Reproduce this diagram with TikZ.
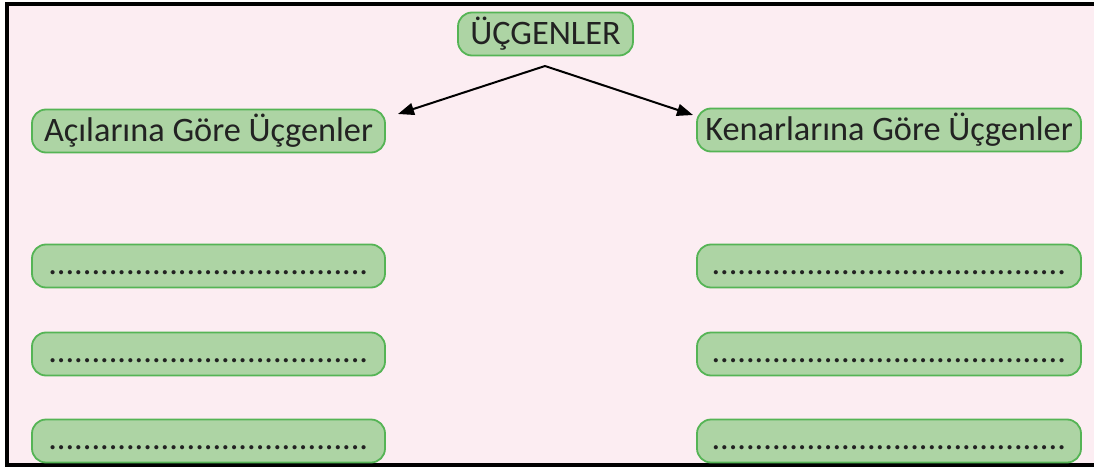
\documentclass[tikz,border=0pt]{standalone}
\usepackage{fontspec}
\setmainfont{Carlito}
\usetikzlibrary{arrows.meta}

\definecolor{pagepink}{HTML}{FCEDF2}
\definecolor{boxfill}{HTML}{ADD4A4}
\definecolor{boxedge}{HTML}{55B455}
\definecolor{inkgray}{HTML}{222222}

\begin{document}
\begin{tikzpicture}[x=1pt, y=-1pt,
  box/.style={draw=boxedge, fill=boxfill, line width=1.8pt, rounded corners=14pt,
    inner sep=0pt, minimum height=43pt, text=inkgray,
    font=\fontsize{34.3}{40}\selectfont},
  blank/.style={box, text height=16pt, text depth=0pt},
  link/.style={line width=2pt, -{Triangle[length=16pt, width=12pt]}}]
\useasboundingbox (0,0) rectangle (1094,468);
\fill[pagepink] (7,4) rectangle (1094,465);
\draw[line width=4pt] (1094,4) -- (7,4) -- (7,465) -- (1094,465);

\node[box, minimum width=175pt] (top) at (545.5,34) {ÜÇGENLER};
\node[box, minimum width=353pt] (aci) at (208.5,131) {Açılarına Göre Üçgenler};
\node[box, minimum width=384pt] (kenar) at (889,130) {Kenarlarına Göre Üçgenler};

\node[blank, minimum width=353pt] (aci1) at (208.5,266) {.....................................};
\node[blank, minimum width=353pt] (aci2) at (208.5,354) {.....................................};
\node[blank, minimum width=353pt] (aci3) at (208.5,441) {.....................................};
\node[blank, minimum width=384pt] (kenar1) at (889,266) {.........................................};
\node[blank, minimum width=384pt] (kenar2) at (889,354) {.........................................};
\node[blank, minimum width=384pt] (kenar3) at (889,441) {.........................................};

\coordinate (apex) at (545,66);
\coordinate (acitip) at (398,114);
\coordinate (kenartip) at (693,115);
\draw[link] (apex) -- (acitip);
\draw[link] (apex) -- (kenartip);
\end{tikzpicture}
\end{document}
